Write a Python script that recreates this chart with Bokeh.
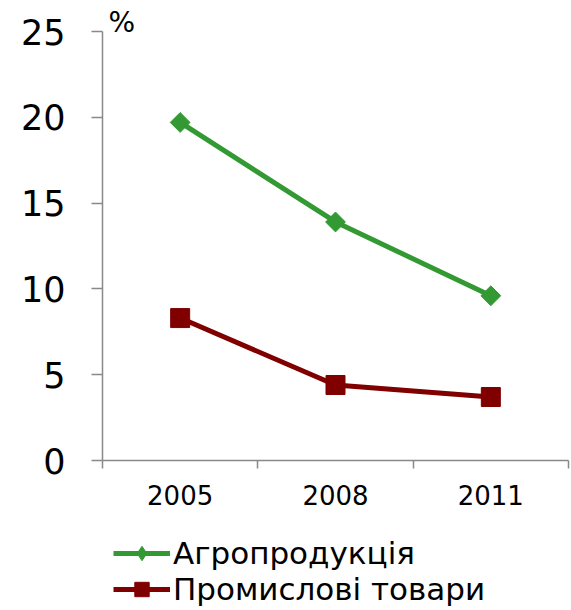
import math
from bokeh.plotting import figure
from bokeh.layouts import column
from bokeh.models import Range1d, FixedTicker, Legend, LegendItem
from bokeh.embed import file_html
from bokeh.resources import INLINE

# ---- data ----
years = ["2005", "2008", "2011"]
agro = [19.7, 13.9, 9.6]
industrial = [8.3, 4.4, 3.7]
y_ticks = [0, 5, 10, 15, 20, 25]
series_names = ["Агропродукція", "Промислові товари"]
unit_label = "%"

FONT = "DejaVu Sans"
GREEN = "#339933"
RED = "#800000"
AXIS = "#898989"

xs = [i + 0.5 for i in range(len(years))]

p = figure(frame_width=466, frame_height=429, output_backend="svg", toolbar_location=None,
           x_range=Range1d(0, len(years)), y_range=Range1d(0, 25),
           min_border_left=102, min_border_right=2, min_border_top=31,
           min_border_bottom=70, title=unit_label)
p.outline_line_color = None
p.xgrid.visible = False
p.ygrid.visible = False
p.background_fill_color = "white"
p.border_fill_color = "white"

p.title.text_font = FONT
p.title.text_font_size = "28px"
p.title.text_font_style = "normal"
p.title.text_color = "black"
p.title.align = "left"
p.title.offset = 6
p.title.standoff = -14

# x axis: labels at category centers, tick marks at category boundaries
p.xaxis.ticker = FixedTicker(ticks=xs, minor_ticks=list(range(len(years) + 1)))
p.xaxis.major_label_overrides = {x: y for x, y in zip(xs, years)}
p.xaxis.major_tick_line_color = None
p.xaxis.minor_tick_line_color = AXIS
p.xaxis.minor_tick_line_width = 1.5
p.xaxis.minor_tick_out = 8
p.xaxis.minor_tick_in = 0
p.xaxis.major_tick_out = 8
p.xaxis.axis_line_color = AXIS
p.xaxis.axis_line_width = 1.5
p.xaxis.major_label_text_font = FONT
p.xaxis.major_label_text_font_size = "26px"
p.xaxis.major_label_text_color = "black"
p.xaxis.major_label_standoff = 16

# y axis
p.yaxis.ticker = FixedTicker(ticks=y_ticks)
p.yaxis.minor_tick_line_color = None
p.yaxis.major_tick_line_color = AXIS
p.yaxis.major_tick_line_width = 1.5
p.yaxis.major_tick_out = 11
p.yaxis.major_tick_in = 0
p.yaxis.axis_line_color = AXIS
p.yaxis.axis_line_width = 1.5
p.yaxis.major_label_text_font = FONT
p.yaxis.major_label_text_font_size = "35px"
p.yaxis.major_label_text_color = "black"
p.yaxis.major_label_standoff = 26

# series in the chart
p.line(xs, agro, line_color=GREEN, line_width=5)
p.scatter(xs, agro, marker="square", angle=math.pi / 4, size=14,
          fill_color=GREEN, line_color=GREEN)
p.line(xs, industrial, line_color=RED, line_width=5)
p.scatter(xs, industrial, marker="square", size=19,
          fill_color=RED, line_color=RED)

# legend strip below the chart (same series drawn out of view, legend only)
q = figure(frame_width=570, frame_height=79, output_backend="svg", toolbar_location=None,
           x_range=Range1d(0, len(years)), y_range=Range1d(100, 101),
           x_axis_type=None, y_axis_type=None,
           min_border_left=0, min_border_right=0, min_border_top=0, min_border_bottom=0)
q.outline_line_color = None
q.xgrid.visible = False
q.ygrid.visible = False
q.background_fill_color = "white"
q.border_fill_color = "white"
g1 = [q.line(xs, agro, line_color=GREEN, line_width=5),
      q.scatter(xs, agro, marker="diamond", size=14, fill_color=GREEN, line_color=GREEN)]
g2 = [q.line(xs, industrial, line_color=RED, line_width=5),
      q.scatter(xs, industrial, marker="square", size=19, fill_color=RED, line_color=RED)]

legend = Legend(items=[LegendItem(label=series_names[0], renderers=g1),
                       LegendItem(label=series_names[1], renderers=g2)],
                location=(113, 2), orientation="vertical",
                label_text_font=FONT, label_text_font_size="31px",
                label_text_color="black",
                glyph_width=57, glyph_height=36, label_height=36,
                label_standoff=3, spacing=0, padding=0, margin=0,
                border_line_color=None, background_fill_alpha=0)
q.add_layout(legend, "center")

layout = column(p, q, spacing=0)
open("out.html", "w").write(file_html(layout, INLINE))
